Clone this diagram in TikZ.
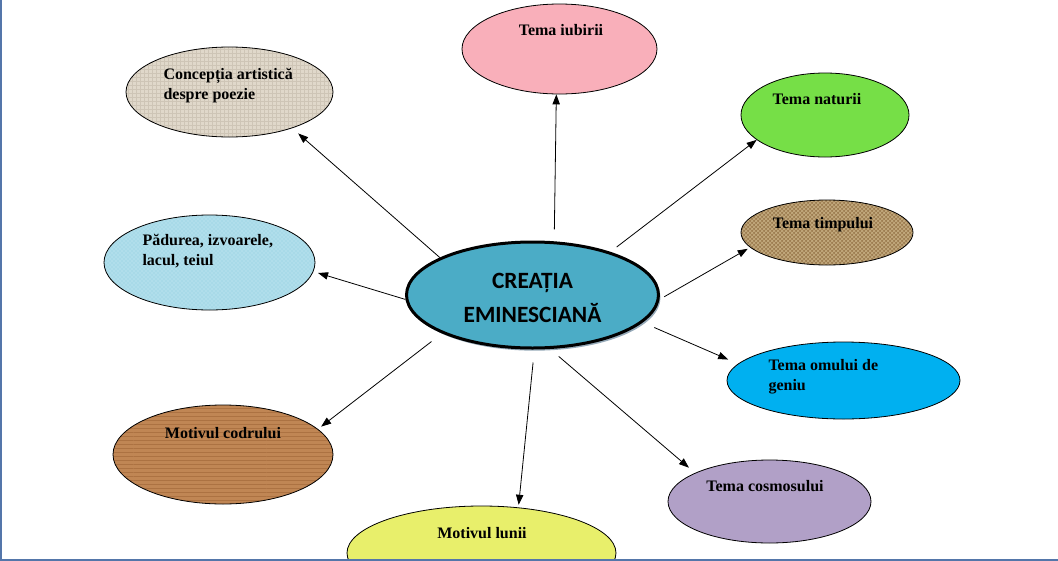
\documentclass[tikz,border=0pt]{standalone}
\usepackage{fontspec}
\setmainfont{Liberation Serif}
\newfontfamily\calibrifont{Carlito}
\usetikzlibrary{shapes.geometric,arrows.meta,patterns,shadows}

\definecolor{colCentre}{RGB}{75,172,198}
\definecolor{colShadow}{RGB}{150,170,185}
\definecolor{colIubire}{RGB}{249,175,186}
\definecolor{colNatura}{RGB}{118,223,71}
\definecolor{colGeniu}{RGB}{0,176,240}
\definecolor{colCosmos}{RGB}{177,160,199}
\definecolor{colLuna}{RGB}{232,239,107}
\definecolor{colPanza}{RGB}{224,216,202}
\definecolor{colPanzaDark}{RGB}{206,197,182}
\definecolor{colApa}{RGB}{168,218,232}
\definecolor{colApaLight}{RGB}{205,236,245}
\definecolor{colSac}{RGB}{158,126,82}
\definecolor{colSacDark}{RGB}{200,176,132}
\definecolor{colLemn}{RGB}{192,134,84}
\definecolor{colLemnDark}{RGB}{172,114,66}
\definecolor{frameblue}{RGB}{84,118,170}

\tikzset{every picture/.style={line width=0.75pt}}
\tikzset{
  oval/.style={ellipse, draw=black, line width=0.6pt, inner sep=0pt},
  lbl/.style={inner sep=0pt, font=\fontsize{12}{15}\selectfont\bfseries},
  link/.style={-{Triangle[length=7.5pt,width=5.5pt]}, line width=0.6pt},
}

\begin{document}
\begin{tikzpicture}[x=0.75pt,y=0.75pt,yscale=-1,xscale=1]
\useasboundingbox (0,0) rectangle (1058,561);

%Centre ellipse
\node[oval, line width=2.25pt, fill=colCentre, minimum width=189pt, minimum height=79.5pt,
  drop shadow={shadow xshift=1.5pt, shadow yshift=-2pt, fill=colShadow, opacity=1}] (c) at (532.5,295) {};

%Theme ellipses
\node[oval, fill=colIubire, minimum width=146.25pt, minimum height=67.5pt] (iub) at (559.5,49) {};
\node[oval, preaction={fill=colPanza}, pattern=grid, pattern color=colPanzaDark, minimum width=155.25pt, minimum height=67.5pt] (conc) at (229.5,92) {};
\node[oval, fill=colNatura, minimum width=126pt, minimum height=63pt] (nat) at (825,115) {};
\node[oval, preaction={fill=colSac}, pattern=crosshatch, pattern color=colSacDark, minimum width=129pt, minimum height=48.75pt] (tim) at (827,232.5) {};
\node[oval, preaction={fill=colApa}, pattern=crosshatch dots, pattern color=colApaLight, minimum width=158.25pt, minimum height=71.25pt] (pad) at (209.5,262.5) {};
\node[oval, fill=colGeniu, minimum width=174.75pt, minimum height=57.75pt] (omu) at (843.5,380.5) {};
\node[oval, preaction={fill=colLemn}, pattern=horizontal lines, pattern color=colLemnDark, minimum width=165pt, minimum height=74.25pt] (cod) at (223,454.5) {};
\node[oval, fill=colCosmos, minimum width=152.25pt, minimum height=62.25pt] (cos) at (769.5,501.5) {};
\node[oval, fill=colLuna, minimum width=201.75pt, minimum height=70.5pt] (lun) at (481.5,553) {};

%Arrows
\draw[link, shorten <=9pt] (c.68) -- (iub.266);
\draw[link, shorten >=6pt] (c.158) -- (conc.330);
\draw[link, shorten >=3.6pt] (c.182) -- (pad.355);
\draw[link, shorten <=10pt, shorten >=3pt] (c.203) -- (cod.15);
\draw[link, shorten <=9.8pt, shorten >=2pt] (c.272) -- (lun.51);
\draw[link, shorten <=8.6pt, shorten >=6pt] (c.288) -- (cos.159);
\draw[link, shorten <=9.5pt, shorten >=8pt] (c.346) -- (omu.171);
\draw[link, shorten <=4pt, shorten >=2pt] (c.358) -- (tim.191);
\draw[link, shorten <=6pt] (c.29) -- (nat.200);

% Text Nodes
\node[font=\calibrifont\bfseries\fontsize{17.5}{25.5}\selectfont, align=center, inner sep=0pt, anchor=base] (tc) at (532.5,322) {CREAȚIA\\EMINESCIANĂ};
\node[lbl, anchor=base] (tiub) at (561,35) {Tema iubirii};
\node[lbl, anchor=base west, align=left] (tconc) at (163,99) {Concepția artistică\\despre poezie};
\node[lbl, anchor=base west, align=left] (tpad) at (142,265) {Pădurea, izvoarele,\\lacul, teiul};
\node[lbl, anchor=base] (tnat) at (817,104) {Tema naturii};
\node[lbl, anchor=base] (ttim) at (823,228) {Tema timpului};
\node[lbl, anchor=base west, align=left] (tomu) at (768,390) {Tema omului de\\geniu};
\node[lbl, anchor=base] (tcod) at (223,438) {Motivul codrului};
\node[lbl, anchor=base] (tcos) at (765,491) {Tema cosmosului};
\node[lbl, anchor=base] (tlun) at (482,538) {Motivul lunii};

%Frame lines
\draw[frameblue, line width=1.5pt] (0.75,0) -- (0.75,561);
\draw[frameblue, line width=1.5pt] (0,559.5) -- (1058,559.5);

\end{tikzpicture}
\end{document}
